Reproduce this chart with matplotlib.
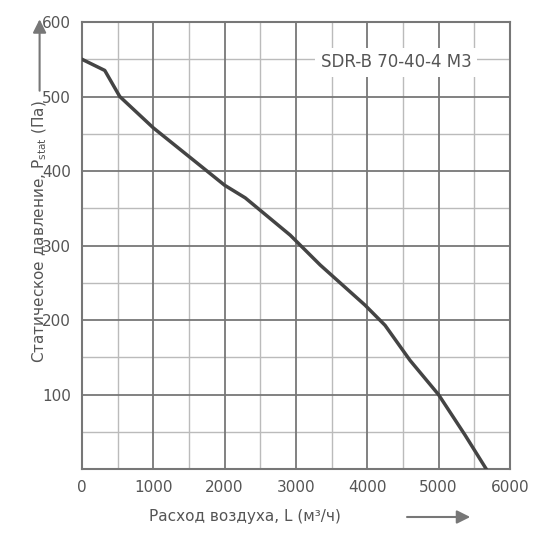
import matplotlib
matplotlib.use("Agg")
import matplotlib.pyplot as plt

flow = [0, 320, 530, 1000, 1650, 2000, 2290, 2920, 3340, 3970, 4250, 4600, 5000, 5370, 5670]
pressure = [550, 535, 500, 458, 408, 381, 364, 314, 274, 220, 193, 146, 100, 46, 0]
xticks = [0, 1000, 2000, 3000, 4000, 5000, 6000]
yticks = [100, 200, 300, 400, 500, 600]

fig = plt.figure(figsize=(5.5, 5.5), dpi=100)
ax = fig.add_axes([0.149, 0.147, 0.778, 0.813])
ax.set_xlim(0, 6000)
ax.set_ylim(0, 600)
for v in range(500, 6000, 1000):
    ax.axvline(v, color="#bbbbbb", lw=1, zorder=1)
for v in range(50, 600, 100):
    ax.axhline(v, color="#bbbbbb", lw=1, zorder=1)
for v in xticks[1:-1]:
    ax.axvline(v, color="#777777", lw=1.3, zorder=1)
for v in yticks[:-1]:
    ax.axhline(v, color="#777777", lw=1.3, zorder=1)
for s in ax.spines.values():
    s.set_color("#777777"); s.set_linewidth(1.5)
ax.plot(flow, pressure, color="#444444", lw=2.5, zorder=3)
ax.set_xticks(xticks)
ax.set_yticks(yticks)
ax.tick_params(length=0, labelsize=11, colors="#555555", pad=8)
ax.text(0.91, 0.91, "SDR-B 70-40-4 M3", transform=ax.transAxes, ha="right", va="center",
        fontsize=12, color="#555555", bbox=dict(facecolor="white", edgecolor="none", pad=4), zorder=4)
fig.text(0.62, 0.06, "Расход воздуха, L (м³/ч)", ha="right", va="center", fontsize=11, color="#555555")
fig.text(0.072, 0.578, "Статическое давление, P$_{\\rm stat}$ (Па)", rotation=90, ha="center", va="center",
         fontsize=11, color="#555555")
fig.add_artist(matplotlib.patches.FancyArrowPatch((0.735, 0.06), (0.86, 0.06), transform=fig.transFigure,
               arrowstyle="-|>,head_length=8,head_width=4", color="#777777", lw=1.5))
fig.add_artist(matplotlib.patches.FancyArrowPatch((0.072, 0.83), (0.072, 0.97), transform=fig.transFigure,
               arrowstyle="-|>,head_length=8,head_width=4", color="#777777", lw=1.5))
fig.savefig("out.png")
